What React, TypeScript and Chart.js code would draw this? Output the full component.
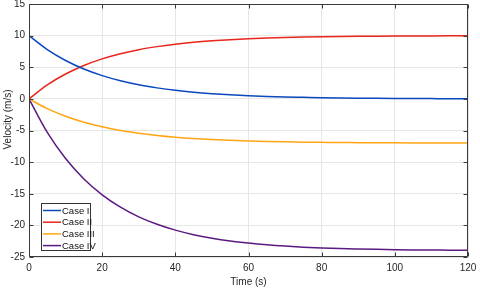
import React, { useEffect, useRef } from "react";
import { Chart, registerables } from "chart.js";

Chart.register(...registerables);

// ---- data ----
const timeS = [0, 5, 10, 15, 20, 25, 30, 35, 40, 45, 50, 55, 60, 65, 70, 75, 80, 85, 90, 95, 100, 105, 110, 115, 120];
const caseI = [10, 7.79, 6.07, 4.72, 3.68, 2.87, 2.23, 1.74, 1.35, 1.05, 0.82, 0.64, 0.5, 0.39, 0.3, 0.24, 0.18, 0.14, 0.11, 0.09, 0.07, 0.05, 0.04, 0.03, 0.03];
const caseII = [0, 2.21, 3.93, 5.28, 6.32, 7.13, 7.77, 8.26, 8.65, 8.95, 9.18, 9.36, 9.5, 9.61, 9.7, 9.77, 9.82, 9.86, 9.89, 9.91, 9.93, 9.95, 9.96, 9.97, 9.98];
const caseIII = [0, -1.55, -2.75, -3.69, -4.42, -5.0, -5.44, -5.78, -6.05, -6.26, -6.43, -6.55, -6.65, -6.73, -6.79, -6.84, -6.87, -6.9, -6.92, -6.94, -6.95, -6.96, -6.97, -6.98, -6.98];
const caseIV = [0, -5.31, -9.44, -12.66, -15.17, -17.12, -18.65, -19.83, -20.75, -21.47, -22.03, -22.47, -22.8, -23.07, -23.28, -23.44, -23.56, -23.66, -23.73, -23.79, -23.84, -23.88, -23.9, -23.92, -23.94];
const seriesLabels = ["Case I", "Case II", "Case III", "Case IV"];
const seriesColors = ["#0a48bd", "#e8261c", "#ffa514", "#5a1a80"];
const xTicks = [0, 20, 40, 60, 80, 100, 120];
const yTicks = [-25, -20, -15, -10, -5, 0, 5, 10, 15];
const xTitle = "Time (s)";
const yTitle = "Velocity (m/s)";

const NARROW = '"Liberation Sans Narrow", "Arial Narrow", "Liberation Sans", Arial, sans-serif';
const REGULAR = '"Liberation Sans", Arial, sans-serif';
const AXIS_COLOR = "#3a3a3a";
const TEXT_COLOR = "#262626";

const framePlugin = {
  id: "matlabFrame",
  afterDatasetsDraw(chart: any) {
    const { ctx, chartArea: a, scales } = chart;
    ctx.save();
    ctx.strokeStyle = AXIS_COLOR;
    ctx.lineWidth = 1;
    const L = Math.round(a.left) + 0.5;
    const R = Math.round(a.right) - 0.5;
    const T = Math.round(a.top) + 0.5;
    const B = Math.round(a.bottom) - 0.5;
    ctx.beginPath();
    ctx.rect(L, T, R - L, B - T);
    const tl = 4;
    scales.x.ticks.forEach((t: any) => {
      const x = Math.round(scales.x.getPixelForValue(t.value)) + 0.5;
      ctx.moveTo(x, B);
      ctx.lineTo(x, B - tl);
      ctx.moveTo(x, T);
      ctx.lineTo(x, T + tl);
    });
    scales.y.ticks.forEach((t: any) => {
      const y = Math.round(scales.y.getPixelForValue(t.value)) + 0.5;
      ctx.moveTo(L, y);
      ctx.lineTo(L + tl, y);
      ctx.moveTo(R, y);
      ctx.lineTo(R - tl, y);
    });
    ctx.stroke();

    // y title
    ctx.fillStyle = TEXT_COLOR;
    ctx.font = "10px " + REGULAR;
    ctx.textAlign = "center";
    ctx.textBaseline = "middle";
    ctx.translate(8, 119.5);
    ctx.rotate(-Math.PI / 2);
    ctx.fillText(yTitle, 0, 0);
    ctx.restore();

    // legend
    ctx.save();
    const bx = Math.round(a.left) + 12.5;
    const by = Math.round(a.bottom) - 53.5;
    const bw = 49;
    const bh = 47;
    ctx.fillStyle = "#ffffff";
    ctx.fillRect(bx, by, bw, bh);
    ctx.strokeStyle = "#333333";
    ctx.lineWidth = 1;
    ctx.strokeRect(bx, by, bw, bh);
    ctx.font = "9.5px " + NARROW;
    ctx.textAlign = "left";
    ctx.textBaseline = "middle";
    seriesLabels.forEach((lab, i) => {
      const y = by + 7 + i * 11.7;
      ctx.strokeStyle = seriesColors[i];
      ctx.lineWidth = 1.5;
      ctx.beginPath();
      ctx.moveTo(bx + 1.5, y);
      ctx.lineTo(bx + 19.5, y);
      ctx.stroke();
      ctx.fillStyle = "#111111";
      ctx.fillText(lab, bx + 20.5, y + 0.5);
    });
    ctx.restore();
  },
};

export default function App() {
  const ref = useRef<HTMLCanvasElement>(null);
  useEffect(() => {
    document.body.style.margin = "0";
    const canvas = ref.current!;
    const chart = new Chart(canvas, {
      type: "line",
      data: {
        datasets: [caseI, caseII, caseIII, caseIV].map((arr, i) => ({
          label: seriesLabels[i],
          data: arr.map((v, j) => ({ x: timeS[j], y: v })),
          borderColor: seriesColors[i],
          backgroundColor: seriesColors[i],
          borderWidth: 1.5,
          pointRadius: 0,
          cubicInterpolationMode: "monotone" as const,
          fill: false,
        })),
      },
      options: {
        animation: false,
        responsive: false,
        devicePixelRatio: 1,
        layout: { padding: { left: 0, top: 4, right: 12, bottom: 0 } },
        plugins: { legend: { display: false }, tooltip: { enabled: false } },
        scales: {
          x: {
            type: "linear",
            min: 0,
            max: 120,
            afterBuildTicks: (s: any) => {
              s.ticks = xTicks.map((v) => ({ value: v }));
            },
            afterFit: (s: any) => {
              s.height = 32;
              s.paddingLeft = 0;
              s.paddingRight = 0;
            },
            grid: { color: "#e6e6e6", drawTicks: false },
            border: { display: false },
            ticks: {
              padding: 5,
              maxRotation: 0,
              font: { family: NARROW, size: 10 },
              color: TEXT_COLOR,
            },
            title: {
              display: true,
              text: xTitle,
              font: { family: NARROW, size: 10 },
              color: TEXT_COLOR,
              padding: { top: 0, bottom: 1 },
            },
          },
          y: {
            type: "linear",
            min: -25,
            max: 15,
            afterBuildTicks: (s: any) => {
              s.ticks = yTicks.map((v) => ({ value: v }));
            },
            afterFit: (s: any) => {
              s.width = 29;
              s.paddingTop = 0;
              s.paddingBottom = 0;
            },
            grid: { color: "#e6e6e6", drawTicks: false },
            border: { display: false },
            ticks: {
              padding: 4,
              font: { family: NARROW, size: 10 },
              color: TEXT_COLOR,
            },
          },
        },
      },
      plugins: [framePlugin],
    });
    return () => chart.destroy();
  }, []);
  return (
    <div style={{ position: "absolute", left: 0, top: 0, width: 480, height: 289 }}>
      <canvas ref={ref} width={480} height={289} style={{ width: 480, height: 289 }} />
    </div>
  );
}
